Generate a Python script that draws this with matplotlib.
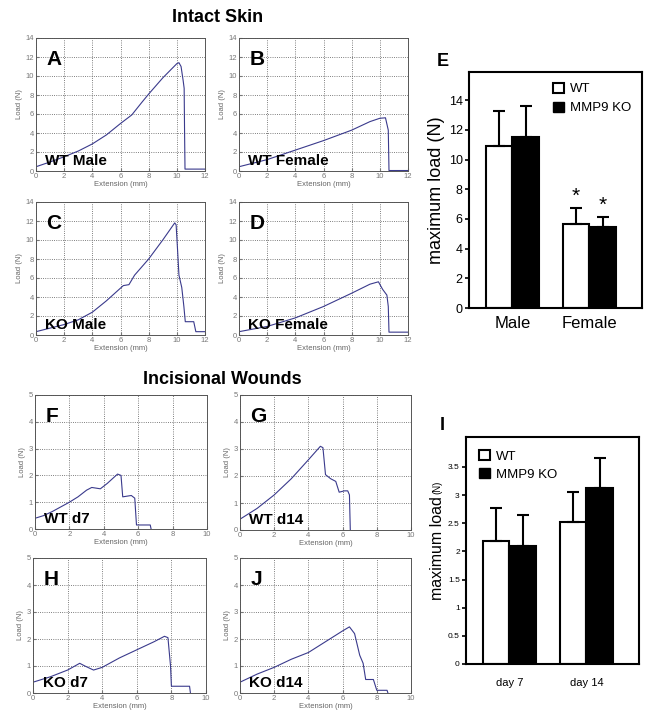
import numpy as np
import matplotlib as mpl
mpl.use('Agg')
from matplotlib import pyplot as plt
from matplotlib.patches import Patch

plt.rcParams['font.family'] = ['Liberation Sans', 'DejaVu Sans']

W, H = 649, 723

### load-extension curves
A_x = [0, 1, 2, 3, 4, 5, 6, 6.8, 7.5, 8, 9, 10, 10.15, 10.3, 10.45, 10.52, 10.55, 10.58, 12]
A_y = [0.45, 0.95, 1.5, 2.1, 2.85, 3.8, 5.0, 5.9, 7.2, 8.1, 9.8, 11.3, 11.4, 11.0, 9.5, 8.7, 4.0, 0.2, 0.2]
B_x = [0, 2, 4, 6, 8, 9.3, 10, 10.4, 10.6, 10.65, 12]
B_y = [0.45, 1.2, 2.2, 3.2, 4.3, 5.2, 5.55, 5.6, 4.3, 0.05, 0.05]
C_x = [0, 2, 3, 4, 5, 6.2, 6.6, 7, 8, 9, 9.85, 9.95, 10.05, 10.15, 10.35, 10.5, 10.6, 11.2, 11.35, 12]
C_y = [0.35, 1.1, 1.6, 2.4, 3.6, 5.2, 5.3, 6.3, 8.0, 10.0, 11.8, 11.6, 9.0, 6.3, 5.0, 3.0, 1.4, 1.4, 0.35, 0.35]
D_x = [0, 2, 4, 6, 8, 9.3, 9.9, 10.2, 10.5, 10.6, 10.65, 12]
D_y = [0.35, 0.9, 1.8, 3.0, 4.4, 5.35, 5.6, 4.8, 4.2, 3.0, 0.3, 0.3]
F_x = [0, 0.5, 1, 2, 2.5, 3, 3.3, 3.8, 4.2, 4.8, 5.0, 5.1, 5.6, 5.8, 5.9, 6.7, 6.75]
F_y = [0.4, 0.5, 0.65, 1.0, 1.2, 1.45, 1.55, 1.5, 1.7, 2.05, 2.0, 1.2, 1.25, 1.15, 0.15, 0.15, 0]
G_x = [0, 1, 2, 3, 4, 4.7, 4.85, 5.0, 5.3, 5.6, 5.8, 6.1, 6.3, 6.4, 6.45]
G_y = [0.4, 0.8, 1.3, 1.9, 2.6, 3.1, 3.05, 2.05, 1.9, 1.8, 1.4, 1.45, 1.45, 1.3, 0]
H_x = [0, 1, 2, 2.7, 3.0, 3.5, 4, 5, 6, 7, 7.6, 7.8, 7.95, 8.0, 9.05, 9.1]
H_y = [0.4, 0.6, 0.85, 1.1, 1.0, 0.85, 0.95, 1.3, 1.6, 1.9, 2.1, 2.05, 1.0, 0.25, 0.25, 0]
J_x = [0, 1, 2, 3, 4, 5, 6, 6.4, 6.7, 7.0, 7.2, 7.35, 7.8, 8.0, 8.6, 8.65]
J_y = [0.4, 0.7, 0.95, 1.25, 1.5, 1.9, 2.3, 2.45, 2.2, 1.4, 1.1, 0.5, 0.5, 0.1, 0.1, 0]

### maximum load bar charts
sex = ['Male', 'Female']
E_wt = [10.9, 5.65]
E_wt_err = [2.4, 1.1]
E_ko = [11.5, 5.45]
E_ko_err = [2.1, 0.7]
days = ['day 7', 'day 14']
I_wt = [2.18, 2.52]
I_wt_err = [0.59, 0.54]
I_ko = [2.1, 3.13]
I_ko_err = [0.55, 0.52]

fig = plt.figure(figsize=(W/100., H/100.), dpi=100)

def px_axes(x0, y0, x1, y1):
	return fig.add_axes([x0/W, 1-y1/H, (x1-x0)/W, (y1-y0)/H])

def curve_panel(box, x, y, xmax, ymax, ystep, letter, name):
	ax = px_axes(*box)
	ax.plot(x, y, color='#3a3a8c', linewidth=0.8)
	ax.set_xlim(0, xmax)
	ax.set_ylim(0, ymax)
	ax.set_xticks(np.arange(0, xmax+0.1, 2))
	ax.set_yticks(np.arange(0, ymax+0.1, ystep))
	ax.grid(True, linestyle=':', color='#555555', linewidth=0.6)
	ax.tick_params(direction='in', length=2, labelsize=5.5, colors='#777777', pad=1.5)
	for s in ax.spines.values():
		s.set_color('#555555')
		s.set_linewidth(0.7)
	ax.set_xlabel('Extension (mm)', fontsize=5.5, color='#666666', labelpad=1)
	ax.set_ylabel('Load (N)', fontsize=5.5, color='#666666', labelpad=2)
	ax.text(0.06, 0.84, letter, transform=ax.transAxes, fontsize=15,
		fontweight='bold', va='center')
	ax.text(0.055, 0.02, name, transform=ax.transAxes, fontsize=11,
		fontweight='bold', va='bottom')
	return ax

curve_panel((36, 38, 205, 171), A_x, A_y, 12, 14, 2, 'A', 'WT Male')
curve_panel((239, 38, 408, 171), B_x, B_y, 12, 14, 2, 'B', 'WT Female')
curve_panel((36, 202, 205, 335), C_x, C_y, 12, 14, 2, 'C', 'KO Male')
curve_panel((239, 202, 408, 335), D_x, D_y, 12, 14, 2, 'D', 'KO Female')
curve_panel((35, 395, 207, 529), F_x, F_y, 10, 5, 1, 'F', 'WT d7')
curve_panel((240, 395, 411, 530), G_x, G_y, 10, 5, 1, 'G', 'WT d14')
curve_panel((33, 558, 206, 693), H_x, H_y, 10, 5, 1, 'H', 'KO d7')
curve_panel((240, 558, 411, 693), J_x, J_y, 10, 5, 1, 'J', 'KO d14')

fig.text(218/W, 1-18/H, 'Intact Skin', fontsize=13, fontweight='bold', ha='center', va='center')
fig.text(222/W, 1-380/H, 'Incisional Wounds', fontsize=13, fontweight='bold', ha='center', va='center')

def bar_panel(box, wt, wt_err, ko, ko_err, labels, ymax, yticks, ticklab_size):
	ax = px_axes(*box)
	pos = np.arange(len(labels))
	bw = 0.345
	ax.bar(pos - bw/2, wt, bw, color='white', edgecolor='black', linewidth=1.5,
		yerr=[np.zeros(len(wt)), wt_err], capsize=4, error_kw=dict(elinewidth=1.5, capthick=1.5))
	ax.bar(pos + bw/2, ko, bw, color='black', edgecolor='black', linewidth=1.5,
		yerr=[np.zeros(len(ko)), ko_err], capsize=4, error_kw=dict(elinewidth=1.5, capthick=1.5))
	ax.set_xlim(-0.56, 1.68)
	ax.set_ylim(0, ymax)
	ax.set_yticks(yticks)
	ax.set_xticks(pos)
	ax.set_xticklabels(labels)
	ax.tick_params(axis='x', length=0, pad=6)
	ax.tick_params(axis='y', direction='out', length=3, width=1.2, labelsize=ticklab_size, pad=1.5)
	for s in ax.spines.values():
		s.set_linewidth(1.5)
	return ax, pos, bw

axE, pos, bw = bar_panel((469, 72, 642, 308), E_wt, E_wt_err, E_ko, E_ko_err, sex,
	15.9, np.arange(0, 15, 2), 9)
axE.tick_params(axis='x', labelsize=12)
axE.set_ylabel('maximum load (N)', fontsize=13)
axE.yaxis.set_label_coords(-0.14, 0.5)
for p, v, e in [(pos[1]-bw/2, E_wt[1], E_wt_err[1]), (pos[1]+bw/2, E_ko[1], E_ko_err[1])]:
	axE.text(p, v + e + 0.15, '*', ha='center', va='bottom', fontsize=15)
axE.legend(handles=[Patch(facecolor='white', edgecolor='black', linewidth=1.5, label='WT'),
	Patch(facecolor='black', edgecolor='black', label='MMP9 KO')],
	loc='upper right', frameon=False, fontsize=9.5, handlelength=0.8, handleheight=0.8,
	handletextpad=0.5, borderaxespad=0.4, labelspacing=0.5)
fig.text(437/W, 1-62/H, 'E', fontsize=13, fontweight='bold', ha='left', va='center')

axI, pos, bw = bar_panel((466, 437, 639, 664), I_wt, I_wt_err, I_ko, I_ko_err, days,
	4.03, np.arange(0, 3.6, 0.5), 6)
axI.set_yticklabels(['0', '0.5', '1', '1.5', '2', '2.5', '3', '3.5'])
axI.tick_params(axis='x', labelsize=8, pad=10)
axI.text(-0.165, 0.51, 'maximum load', transform=axI.transAxes, rotation=90,
	fontsize=11.5, ha='center', va='center')
axI.text(-0.165, 0.78, '(N)', transform=axI.transAxes, rotation=90,
	fontsize=7, ha='center', va='center')
axI.legend(handles=[Patch(facecolor='white', edgecolor='black', linewidth=1.5, label='WT'),
	Patch(facecolor='black', edgecolor='black', label='MMP9 KO')],
	loc='upper left', frameon=False, fontsize=9.5, handlelength=0.8, handleheight=0.8,
	handletextpad=0.5, borderaxespad=0.6, labelspacing=0.4)
fig.text(440/W, 1-425/H, 'I', fontsize=13, fontweight='bold', ha='left', va='center')

fig.savefig('out.png', dpi=100)
plt.close()
